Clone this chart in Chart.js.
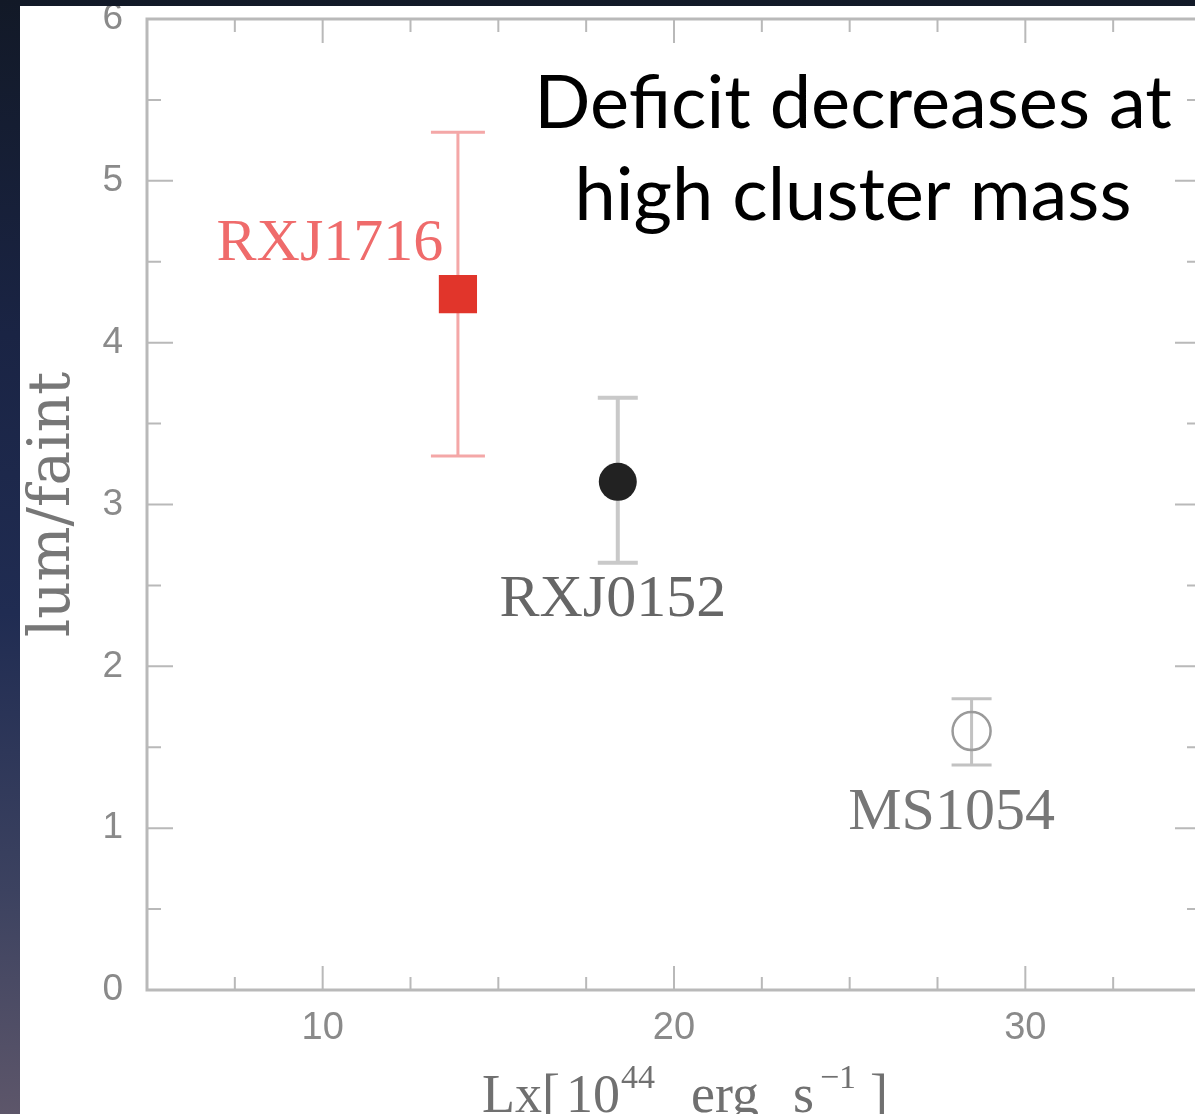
<!DOCTYPE html>
<html>
<head>
<meta charset="utf-8">
<title>lum/faint vs Lx</title>
<script src="https://cdn.jsdelivr.net/npm/chart.js@4.4.1/dist/chart.umd.min.js"></script>
<style>
  html, body {
    margin: 0;
    width: 1195px;
    height: 1114px;
    overflow: hidden;
    background: linear-gradient(to bottom, #121927 0%, #1a2444 30%, #202c52 55%, #3c4260 80%, #5d566a 100%);
  }
  #panel {
    position: absolute;
    left: 20px;
    top: 6px;
    width: 1175px;
    height: 1108px;
    overflow: hidden;
    background: #ffffff;
  }
  #chart {
    position: absolute;
    left: 0;
    top: 0;
  }
</style>
</head>
<body>
<div id="panel">
  <canvas id="chart" width="1181" height="1108"></canvas>
</div>
<script>
// cluster measurements
const clusters = ['RXJ1716', 'RXJ0152', 'MS1054'];
const lx = [13.85, 18.4, 28.47];
const lumFaint = [4.3, 3.14, 1.6];
const errLow = [3.3, 2.64, 1.39];
const errHigh = [5.3, 3.66, 1.8];

// axis ranges and labelled ticks
const xRange = [5, 35];
const yRange = [0, 6];
const xTickLabels = [10, 20, 30];

// per-cluster styling
const markerStyle = ['rect', 'circle', 'circle'];
const markerRadius = [27, 19, 19];
const markerFill = ['#e1352b', '#222222', 'rgba(0,0,0,0)'];
const markerEdge = ['#e1352b', '#222222', '#9a9a9a'];
const markerEdgeWidth = [0, 0, 2.5];
const barColor = ['#f4a7a7', '#c9c9c9', '#c2c2c2'];
const barWidth = [3, 4, 3];
const capHalf = [27, 20, 20];
const labelColor = ['#ef6b6b', '#666666', '#777777'];
const labelOffset = [[-128, -50], [-5, 118], [-20, 82]];

const axisGray = '#b9b9b9';

// fixed box sizes, no extra room reserved for edge labels
function fixBox(size, key) {
  return s => {
    s[key] = size;
    s.paddingTop = 0; s.paddingBottom = 0;
    s.paddingLeft = 0; s.paddingRight = 0;
  };
}

const framePlugin = {
  id: 'frame',
  beforeDatasetsDraw(chart) {
    const { ctx, chartArea: a, scales: { x, y } } = chart;
    ctx.save();
    ctx.strokeStyle = axisGray;
    ctx.lineWidth = 3;
    ctx.strokeRect(a.left, a.top, a.right - a.left, a.bottom - a.top);

    // inward tick marks on all four sides
    ctx.lineWidth = 2;
    ctx.beginPath();
    for (let v = x.min; v <= x.max + 1e-9; v += 2.5) {
      const px = x.getPixelForValue(v);
      const len = (v % 10 === 0) ? 24 : 13;
      ctx.moveTo(px, a.bottom); ctx.lineTo(px, a.bottom - len);
      ctx.moveTo(px, a.top); ctx.lineTo(px, a.top + len);
    }
    for (let v = y.min; v <= y.max + 1e-9; v += 0.5) {
      const py = y.getPixelForValue(v);
      const len = Number.isInteger(v) ? 26 : 14;
      ctx.moveTo(a.left, py); ctx.lineTo(a.left + len, py);
      ctx.moveTo(a.right, py); ctx.lineTo(a.right - len, py);
    }
    ctx.stroke();

    // error bars
    clusters.forEach((name, i) => {
      const px = x.getPixelForValue(lx[i]);
      const top = y.getPixelForValue(errHigh[i]);
      const bot = y.getPixelForValue(errLow[i]);
      ctx.strokeStyle = barColor[i];
      ctx.lineWidth = barWidth[i];
      ctx.beginPath();
      ctx.moveTo(px, top); ctx.lineTo(px, bot);
      ctx.moveTo(px - capHalf[i], top); ctx.lineTo(px + capHalf[i], top);
      ctx.moveTo(px - capHalf[i], bot); ctx.lineTo(px + capHalf[i], bot);
      ctx.stroke();
    });
    ctx.restore();
  },
  afterDatasetsDraw(chart) {
    const { ctx, chartArea: a, scales: { x, y } } = chart;
    ctx.save();

    // cluster names next to their points
    ctx.font = '60px "Liberation Serif"';
    ctx.textAlign = 'center';
    ctx.textBaseline = 'middle';
    clusters.forEach((name, i) => {
      const px = x.getPixelForValue(lx[i]);
      const py = y.getPixelForValue(lumFaint[i]);
      ctx.fillStyle = labelColor[i];
      ctx.fillText(name, px + labelOffset[i][0], py + labelOffset[i][1]);
    });

    // headline
    ctx.fillStyle = '#000000';
    ctx.font = '74px Lato';
    ctx.textBaseline = 'alphabetic';
    const cx = 833;
    ctx.fillText('Deficit decreases at', cx, a.top + 109);
    ctx.fillText('high cluster mass', cx, a.top + 201);

    // x-axis title with superscripts
    const parts = [
      { t: 'Lx[', sup: false },
      { t: '10', sup: false, gap: 6 },
      { t: '44', sup: true, gap: 1 },
      { t: 'erg', sup: false, gap: 36 },
      { t: 's', sup: false, gap: 34 },
      { t: '\u22121', sup: true, gap: 6 },
      { t: ']', sup: false, gap: 14 }
    ];
    const big = '54px "Liberation Serif"';
    const small = '34px "Liberation Serif"';
    let total = 0;
    parts.forEach(p => {
      ctx.font = p.sup ? small : big;
      p.w = ctx.measureText(p.t).width;
      total += p.w + (p.gap || 0);
    });
    let tx = (a.left + a.right) / 2 + 11 - total / 2;
    const base = chart.height - 2;
    ctx.fillStyle = '#707070';
    ctx.textAlign = 'left';
    parts.forEach(p => {
      tx += p.gap || 0;
      ctx.font = p.sup ? small : big;
      ctx.fillText(p.t, tx, p.sup ? base - 24 : base);
      tx += p.w;
    });
    ctx.restore();
  }
};

new Chart(document.getElementById('chart'), {
  type: 'scatter',
  data: {
    datasets: [{
      data: lx.map((v, i) => ({ x: v, y: lumFaint[i] })),
      pointStyle: markerStyle,
      pointRadius: markerRadius,
      pointBackgroundColor: markerFill,
      pointBorderColor: markerEdge,
      pointBorderWidth: markerEdgeWidth
    }]
  },
  options: {
    responsive: false,
    animation: false,
    events: [],
    layout: { autoPadding: false, padding: { top: 13, right: 0, bottom: 0, left: 0 } },
    plugins: {
      legend: { display: false },
      tooltip: { enabled: false }
    },
    scales: {
      x: {
        type: 'linear',
        min: xRange[0],
        max: xRange[1],
        afterBuildTicks: s => { s.ticks = xTickLabels.map(v => ({ value: v })); },
        afterFit: fixBox(124, 'height'),
        grid: { display: false, drawTicks: false },
        border: { display: false },
        ticks: {
          padding: 16,
          color: '#8a8a8a',
          font: { family: '"Liberation Sans"', size: 38, lineHeight: 1.2 }
        }
      },
      y: {
        min: yRange[0],
        max: yRange[1],
        afterFit: fixBox(127, 'width'),
        grid: { display: false, drawTicks: false },
        border: { display: false },
        ticks: {
          stepSize: 1,
          padding: 24,
          color: '#8a8a8a',
          font: { family: '"Liberation Sans"', size: 37 }
        },
        title: {
          display: true,
          text: 'lum/faint',
          color: '#777777',
          padding: { top: 5, bottom: 0 },
          font: { family: '"DejaVu Serif"', size: 58, lineHeight: 1 }
        }
      }
    }
  },
  plugins: [framePlugin]
});
</script>
</body>
</html>
